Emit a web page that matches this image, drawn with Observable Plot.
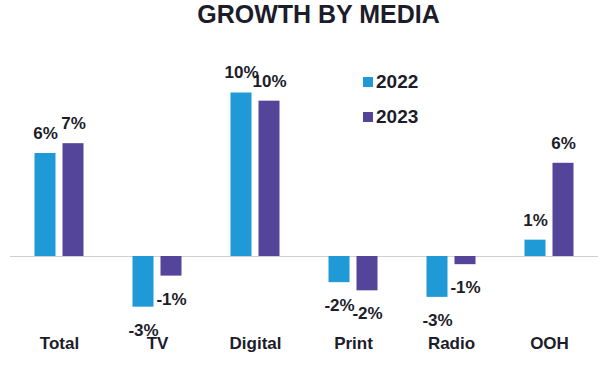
<!DOCTYPE html>
<html><head><meta charset="utf-8">
<script src="https://cdn.jsdelivr.net/npm/d3@7"></script>
<script src="https://cdn.jsdelivr.net/npm/@observablehq/plot@0.6"></script>
<style>
body{margin:0;background:#fff;font-family:"Liberation Sans",Arial,sans-serif;}
#wrap{position:relative;width:600px;height:367px;overflow:hidden;}
#title{height:28px;line-height:28px;font-size:25px;font-weight:bold;color:#1c1c2a;text-align:center;padding-left:37px;box-sizing:border-box;width:600px;margin:0;}
#legend{position:absolute;left:363px;top:64.5px;}
.item{display:flex;align-items:center;height:35px;font-size:19px;font-weight:bold;color:#1c1c2a;}
.sw{width:10px;height:10px;margin-right:3px;}
#chart svg{display:block;}
</style></head><body>
<div id="wrap"><div id="title">GROWTH BY MEDIA</div><div id="chart"></div><div id="legend"></div></div>
<script>
const categories = ["Total","TV","Digital","Print","Radio","OOH"];
const years = ["2022","2023"];
const values2022 = [6.3,-3.1,10.0,-1.6,-2.5,1.0];
const values2023 = [6.9,-1.2,9.5,-2.1,-0.5,5.7];
const labels2022 = ["6%","-3%","10%","-2%","-3%","1%"];
const labels2023 = ["7%","-1%","10%","-2%","-1%","6%"];
const colors = ["#1f9ad6","#55459a"];

const rows = [];
categories.forEach((c,i)=>{
  rows.push({cat:c,year:years[0],v:values2022[i],label:labels2022[i]});
  rows.push({cat:c,year:years[1],v:values2023[i],label:labels2023[i]});
});
const ink = "#1c1c2a";
const font = "'Liberation Sans', Arial, sans-serif";
const plot = Plot.plot({
  width:600, height:339,
  marginLeft:9.5, marginRight:1, marginTop:48.15, marginBottom:45.6,
  fx:{domain:categories, padding:0, axis:null, label:null},
  x:{domain:years, paddingInner:0.24, paddingOuter:0.82, axis:null},
  y:{domain:[-4,11], axis:null},
  color:{domain:years, range:colors},
  style:{fontFamily:font, background:"white"},
  marks:[
    Plot.ruleY([0],{stroke:"#d0d0d0", strokeWidth:1}),
    Plot.barY(rows,{fx:"cat", x:"year", y:"v", fill:"year"}),
    Plot.text(rows.filter(d=>d.v>=0),{fx:"cat", x:"year", y:"v", text:"label", dy:-20, fontSize:17, fontWeight:"bold", fill:ink}),
    Plot.text(rows.filter(d=>d.v<0),{fx:"cat", x:"year", y:"v", text:"label", dy:23, fontSize:17, fontWeight:"bold", fill:ink}),
    Plot.text(categories,{fx:d=>d, text:d=>d, frameAnchor:"bottom", dy:27, fontSize:17, fontWeight:"bold", fill:ink})
  ]
});
document.getElementById("chart").appendChild(plot);
const lg = document.getElementById("legend");
years.forEach((y,i)=>{
  const it = document.createElement("div"); it.className="item";
  const sw = document.createElement("span"); sw.className="sw"; sw.style.background=colors[i];
  const t = document.createElement("span"); t.textContent=y;
  it.appendChild(sw); it.appendChild(t); lg.appendChild(it);
});
</script>
</body></html>
